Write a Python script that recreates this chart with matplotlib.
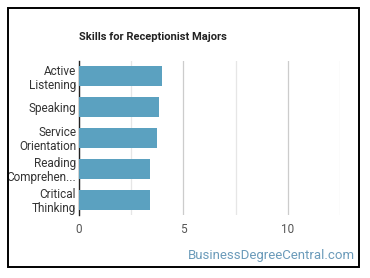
import matplotlib
matplotlib.use('Agg')
import matplotlib.pyplot as plt
from matplotlib.patches import Rectangle
from matplotlib.ticker import MultipleLocator

plt.rcParams['font.family'] = ['Roboto', 'DejaVu Sans']

skills = ['Active\nListening', 'Speaking', 'Service\nOrientation',
          'Reading\nComprehen...', 'Critical\nThinking']
scores = [3.97, 3.81, 3.75, 3.41, 3.41]
xticks = [0, 5, 10]

W, H = 370, 278
fig = plt.figure(figsize=(W / 100, H / 100), dpi=100)

# black frame around the whole chart
fig.patches.append(Rectangle((8 / W, 1 - 267 / H), (359 - 8) / W, (267 - 8) / H,
                             transform=fig.transFigure, fill=False,
                             edgecolor='black', linewidth=1.4))

ax = fig.add_axes([79 / W, 1 - 215 / H, (340 - 79) / W, (215 - 60.7) / H])
y = list(range(len(skills)))
ax.barh(y, scores, height=0.65, color='#5ba1c0', zorder=3)
ax.set_ylim(len(skills) - 0.5, -0.5)
ax.set_xlim(0, 12.5)
ax.set_yticks(y)
ax.set_yticklabels(skills, fontsize=8.5, color='#333333', linespacing=1.1)
ax.set_xticks(xticks)
ax.set_xticklabels([str(t) for t in xticks], fontsize=8.5, color='#555555')
ax.xaxis.set_minor_locator(MultipleLocator(2.5))
ax.grid(axis='x', which='major', color='#cccccc', linewidth=0.9, zorder=0)
ax.grid(axis='x', which='minor', color='#e6e6e6', linewidth=0.9, zorder=0)
ax.tick_params(axis='both', which='both', length=0)
ax.tick_params(axis='x', pad=6)
ax.tick_params(axis='y', pad=2)
for s in ['top', 'right', 'bottom']:
    ax.spines[s].set_visible(False)
ax.spines['left'].set_color('#222222')
ax.spines['left'].set_linewidth(1.0)

fig.text(79 / W, 1 - 37 / H, 'Skills for Receptionist Majors', fontsize=8,
         fontweight='bold', color='#222222', va='center', ha='left')
fig.text(355 / W, 1 - 256 / H, 'BusinessDegreeCentral.com', fontsize=9.5,
         color='#6b9bba', va='center', ha='right')

fig.savefig('out.png', dpi=100)
